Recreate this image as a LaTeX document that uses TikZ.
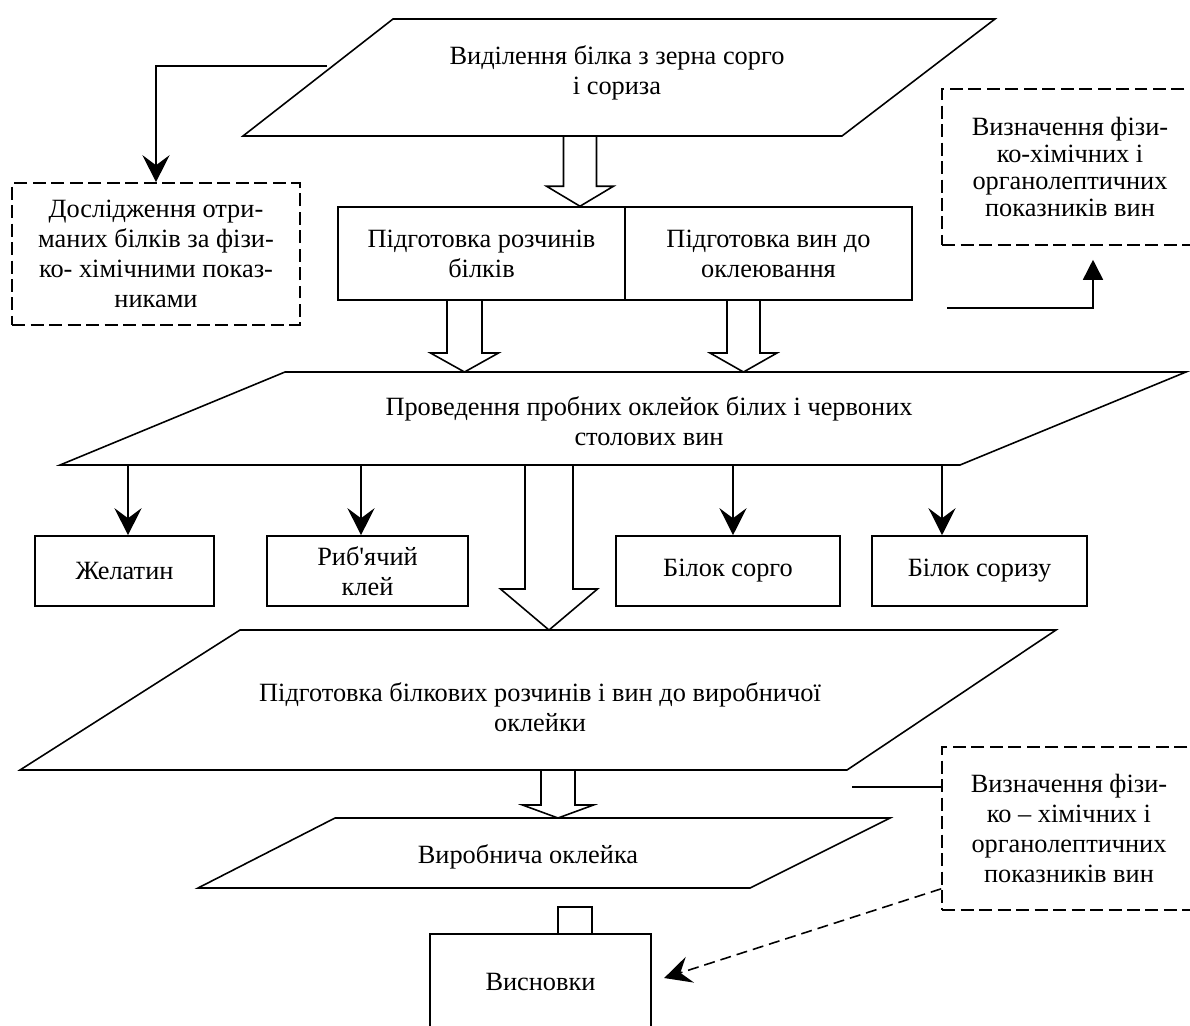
\documentclass[tikz,border=0pt]{standalone}
\usepackage{fontspec}
\setmainfont{Liberation Serif}
\usetikzlibrary{arrows.meta,calc}
\newcommand{\fs}{\fontsize{15}{17}\selectfont}
\newcommand{\fsd}{\fontsize{15}{15.5}\selectfont}
\tikzset{
  >={Stealth[length=5.4mm,width=5.4mm,inset=2mm]},
  ln/.style={line width=.9pt},
  block/.style={draw, ln, align=center, inner sep=0pt, font=\fs},
  probe/.style={block, dash pattern=on 2.6mm off 1.1mm},
  txt/.style={align=center, font=\fs},
  arr/.style={->, ln},
  arrT/.style={-{Triangle[length=4mm,width=4mm]}, ln},
  darr/.style={->, ln, dash pattern=on 2.2mm off 1.2mm}
}
% hollow arrow: x, top ref, tip ref, half stem, half head, head length
\newcommand{\fatarrow}[6]{%
  \path (#2 -| #1,0) coordinate (fa-s) (#3 -| #1,0) coordinate (fa-t);
  \draw[ln] ($(fa-s)+(-#4,0)$) -- ($(fa-t)+(-#4,-#6)$) -- ($(fa-t)+(-#5,-#6)$)
    -- (fa-t) -- ($(fa-t)+(#5,-#6)$) -- ($(fa-t)+(#4,-#6)$) -- ($(fa-s)+(#4,0)$);
}
\begin{document}
\begin{tikzpicture}[x=0.02cm,y=-0.02cm]
  \useasboundingbox (0,0) rectangle (1190,1025);

  % stages
  \draw[ln] (243,136) coordinate (p1sw) -- (393,19) -- (995,19) -- (842,136) -- cycle;
  \node[txt] (t1) at (617,73) {Виділення білка з зерна сорго\\і сориза};
  \coordinate (p1w) at (327,66);

  \node[block,minimum width=5.74cm,minimum height=1.86cm] (prep) at (481.5,253.5) {Підготовка розчинів\\білків};
  \node[block,minimum width=5.74cm,minimum height=1.86cm] (wine) at (768.5,253.5) {Підготовка вин до\\оклеювання};

  \draw[ln] (60,465) coordinate (p2sw) -- (285,372) coordinate (p2nw) -- (1186,372) -- (960,465) -- cycle;
  \node[txt] (t2) at (649,421) {Проведення пробних оклейок білих і червоних\\столових вин};

  \node[block,minimum width=3.58cm,minimum height=1.4cm] (gel) at (124.5,571) {Желатин};
  \node[block,minimum width=4.02cm,minimum height=1.4cm] (ryb) at (367.5,571) {Риб\textquotesingle ячий\\клей};
  \node[block,minimum width=4.48cm,minimum height=1.4cm] (sorg) at (728,571) {Білок сорго};
  \node[block,minimum width=4.3cm,minimum height=1.4cm] (soryz) at (979.5,571) {Білок соризу};

  \draw[ln] (20,770) coordinate (p3sw) -- (240,630) coordinate (p3nw) -- (1056,630) -- (847,770) -- cycle;
  \node[txt] (t3) at (540,707) {Підготовка білкових розчинів і вин до виробничої\\оклейки};

  \draw[ln] (198,888) coordinate (p4sw) -- (335,818) coordinate (p4nw) -- (890,818) -- (750,888) -- cycle;
  \node[txt] (t4) at (528,857) {Виробнича оклейка};

  \node[block,minimum width=0.68cm,minimum height=0.54cm] (stub) at (575,920.5) {};
  \node[block,minimum width=4.42cm,minimum height=1.92cm] (visn) at (540.5,982) {Висновки};

  % research boxes
  \node[probe,minimum width=5.76cm,minimum height=2.84cm] (dosl) at (156,254)
    {Дослідження отри-\\маних білків за фізи-\\ко- хімічними показ-\\никами};
  \node[probe,font=\fsd,minimum width=5.12cm,minimum height=3.12cm] (fiz1) at (1070,167)
    {Визначення фізи-\\ко-хімічних і\\органолептичних\\показників вин};
  \node[probe,minimum width=5.08cm,minimum height=3.26cm] (fiz2) at (1069,828.5)
    {Визначення фізи-\\ко – хімічних і\\органолептичних\\показників вин};

  % hollow arrows
  \fatarrow{580}{p1sw}{prep.north}{16.5}{33.5}{20}
  \fatarrow{464.5}{prep.south}{p2nw}{17.5}{34}{19}
  \fatarrow{743.5}{wine.south}{p2nw}{16.5}{33.5}{19}
  \fatarrow{549}{p2sw}{p3nw}{24}{48.5}{41}
  \fatarrow{558}{p3sw}{p4nw}{17}{35.5}{13}

  % thin arrows
  \foreach \n/\x in {gel/128,ryb/361,sorg/733,soryz/942}
    \draw[arr] (p2sw -| \x,0) -- (\n.north -| \x,0);

  \draw[arr] (p1w) -| (dosl.north);

  \coordinate (c1) at (947,308);
  \coordinate (c2) at (1093,308);
  \draw[arrT,shorten >=2.8mm] (c1) -- (c2) -- (c2 |- fiz1.south);

  \coordinate (c3) at (852,787);
  \draw[ln] (c3) -- (c3 -| fiz2.west);
  \draw[darr,shorten >=2.6mm] ($(fiz2.south west)+(0,-22)$) -- (visn.east);
\end{tikzpicture}
\end{document}
